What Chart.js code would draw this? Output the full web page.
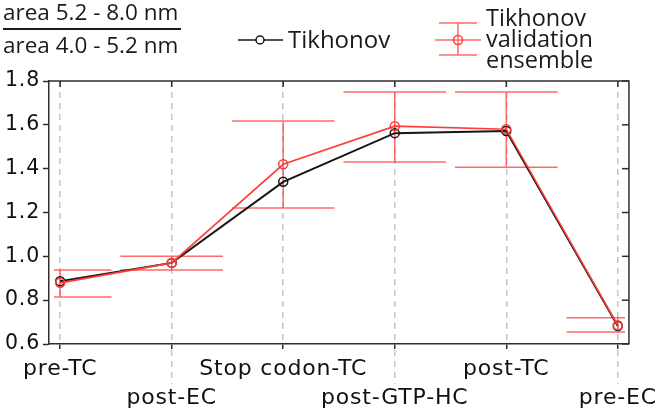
<!DOCTYPE html>
<html>
<head>
<meta charset="utf-8">
<script src="https://cdn.jsdelivr.net/npm/chart.js@4.4.1/dist/chart.umd.min.js"></script>
<style>
  html, body { margin: 0; padding: 0; background: #fff; }
  #wrap { width: 661px; height: 419px; }
</style>
</head>
<body>
<div id="wrap"><canvas id="areaChart" width="661" height="419"></canvas></div>
<script>
/* =====================================================
   DATA
===================================================== */

const stages = ["pre-TC", "post-EC", "Stop codon-TC", "post-GTP-HC", "post-TC", "pre-EC"];

// Tikhonov ratio
const tikhonov = [0.886, 0.97, 1.34, 1.562, 1.572, 0.682];

// Tikhonov validation ensemble (mean + error bar range)
const validation = [0.879, 0.97, 1.42, 1.594, 1.58, 0.685];
const validationHigh = [0.938, 1.0, 1.617, 1.75, 1.75, 0.72];
const validationLow = [0.815, 0.938, 1.22, 1.43, 1.407, 0.655];

const yTicks = [0.6, 0.8, 1.0, 1.2, 1.4, 1.6, 1.8];

const RED = "#ff3c3c";
const RED_BAR = "rgba(255, 80, 80, 0.85)";
const BLACK = "#161616";
const AXIS = "#2e2e2e";


/* =====================================================
   PLUGINS: ERROR BARS, BOX, LEGEND, Y LABEL
===================================================== */

// axis text in the figure is set a bit wide
const wideText = {
  id: "wideText",
  beforeDraw(chart) { chart.ctx.letterSpacing = "0.8px"; }
};

const errorBars = {
  id: "errorBars",
  beforeDatasetsDraw(chart) {
    const { ctx, chartArea } = chart;
    const xs = chart.scales.x, ys = chart.scales.y;
    ctx.save();
    ctx.beginPath();
    ctx.rect(chartArea.left + 5, chartArea.top, chartArea.width - 9, chartArea.height);
    ctx.clip();
    ctx.strokeStyle = RED_BAR;
    ctx.lineWidth = 1.5;
    validation.forEach((v, i) => {
      const x = xs.getPixelForValue(i + 1);
      const x0 = xs.getPixelForValue(i + 1 - 0.46);
      const x1 = xs.getPixelForValue(i + 1 + 0.46);
      const yh = ys.getPixelForValue(validationHigh[i]);
      const yl = ys.getPixelForValue(validationLow[i]);
      ctx.beginPath();
      ctx.moveTo(x, yh); ctx.lineTo(x, yl);
      ctx.moveTo(x0, yh); ctx.lineTo(x1, yh);
      ctx.moveTo(x0, yl); ctx.lineTo(x1, yl);
      ctx.stroke();
    });
    ctx.restore();
  }
};

const boxAndLeaders = {
  id: "boxAndLeaders",
  afterDraw(chart) {
    const { ctx, chartArea } = chart;
    const xs = chart.scales.x, ys = chart.scales.y;
    ctx.save();
    ctx.letterSpacing = "0px";

    // dashed leader lines down to the second label row
    ctx.strokeStyle = "#c4c4c4";
    ctx.lineWidth = 1.5;
    ctx.setLineDash([6, 5]);
    stages.forEach((s, i) => {
      if (i % 2 === 1) {
        const x = xs.getPixelForValue(i + 1);
        ctx.beginPath();
        ctx.moveTo(x, chartArea.bottom + 6);
        ctx.lineTo(x, chartArea.bottom + 40);
        ctx.stroke();
      }
    });
    ctx.setLineDash([]);

    // top and right border with inward ticks
    ctx.strokeStyle = AXIS;
    ctx.lineWidth = 1.5;
    ctx.beginPath();
    ctx.moveTo(chartArea.left, chartArea.top);
    ctx.lineTo(chartArea.right, chartArea.top);
    ctx.lineTo(chartArea.right, chartArea.bottom);
    ctx.stroke();
    stages.forEach((s, i) => {
      const x = xs.getPixelForValue(i + 1);
      ctx.beginPath();
      ctx.moveTo(x, chartArea.top);
      ctx.lineTo(x, chartArea.top + 6);
      ctx.stroke();
    });
    yTicks.forEach(v => {
      const y = ys.getPixelForValue(v);
      ctx.beginPath();
      ctx.moveTo(chartArea.right, y);
      ctx.lineTo(chartArea.right - 7, y);
      ctx.stroke();
    });

    // y label as a fraction
    ctx.fillStyle = "#1a1a1a";
    ctx.font = '22.5px "Open Sans"';
    ctx.textAlign = "left";
    ctx.textBaseline = "alphabetic";
    ctx.fillText("area 5.2 - 8.0 nm", 3, 20);
    ctx.fillText("area 4.0 - 5.2 nm", 3, 53);
    ctx.strokeStyle = "#1a1a1a";
    ctx.lineWidth = 2;
    ctx.beginPath();
    ctx.moveTo(3, 29);
    ctx.lineTo(181, 29);
    ctx.stroke();

    // legend: Tikhonov
    ctx.strokeStyle = BLACK;
    ctx.lineWidth = 1.5;
    ctx.beginPath();
    ctx.moveTo(238, 40); ctx.lineTo(256, 40);
    ctx.moveTo(264, 40); ctx.lineTo(283, 40);
    ctx.stroke();
    ctx.beginPath();
    ctx.arc(260, 40, 4, 0, Math.PI * 2);
    ctx.stroke();
    ctx.font = '24px "Open Sans"';
    ctx.fillText("Tikhonov", 288, 48);

    // legend: validation ensemble
    ctx.strokeStyle = RED_BAR;
    ctx.beginPath();
    ctx.moveTo(458, 23); ctx.lineTo(458, 55);
    ctx.moveTo(439, 23); ctx.lineTo(477, 23);
    ctx.moveTo(439, 55); ctx.lineTo(477, 55);
    ctx.moveTo(435, 40); ctx.lineTo(481, 40);
    ctx.stroke();
    ctx.strokeStyle = RED;
    ctx.beginPath();
    ctx.arc(458, 40, 4.5, 0, Math.PI * 2);
    ctx.stroke();
    ctx.font = '23.5px "Open Sans"';
    ctx.fillText("Tikhonov", 486, 26);
    ctx.fillText("validation", 486, 47);
    ctx.fillText("ensemble", 486, 68);

    ctx.restore();
  }
};


/* =====================================================
   CHART
===================================================== */

new Chart(document.getElementById("areaChart"), {
  type: "line",
  data: {
    datasets: [
      {
        label: "Tikhonov validation ensemble",
        data: validation.map((v, i) => ({ x: i + 1, y: v })),
        borderColor: RED,
        borderWidth: 1.6,
        pointRadius: 4.5,
        pointBorderWidth: 1.5,
        pointBorderColor: RED,
        pointBackgroundColor: "rgba(0,0,0,0)",
        tension: 0
      },
      {
        label: "Tikhonov",
        data: tikhonov.map((v, i) => ({ x: i + 1, y: v })),
        borderColor: BLACK,
        borderWidth: 2,
        pointRadius: 4.5,
        pointBorderWidth: 1.5,
        pointBorderColor: BLACK,
        pointBackgroundColor: "rgba(0,0,0,0)",
        tension: 0
      }
    ]
  },
  options: {
    responsive: false,
    animation: false,
    devicePixelRatio: 1,
    layout: { padding: { top: 81, right: 30, left: 0, bottom: 0 } },
    plugins: {
      legend: { display: false },
      tooltip: { enabled: false }
    },
    scales: {
      x: {
        type: "linear",
        min: 0.9,
        max: 6.1,
        afterBuildTicks: s => { s.ticks = stages.map((_, i) => ({ value: i + 1 })); },
        afterFit: s => { s.height = 75; },
        ticks: {
          autoSkip: false,
          maxRotation: 0,
          padding: 6,
          color: "#111",
          font: { family: "DejaVu Sans", size: 22, lineHeight: 1.32 },
          callback: v => {
            const i = Math.round(v) - 1;
            return i % 2 ? ["", stages[i]] : stages[i];
          }
        },
        grid: {
          color: "#c4c4c4",
          lineWidth: 1.5,
          drawTicks: true,
          tickLength: 5,
          tickColor: AXIS,
          tickWidth: 1.5,
          tickBorderDash: []
        },
        border: { color: AXIS, width: 1.5, dash: [6, 5] }
      },
      y: {
        min: 0.6,
        max: 1.8,
        afterBuildTicks: s => { s.ticks = yTicks.map(v => ({ value: v })); },
        afterFit: s => { s.width = 49; },
        ticks: {
          padding: 3,
          color: "#111",
          font: { family: "DejaVu Sans", size: 20.5 },
          callback: v => v.toFixed(1)
        },
        grid: {
          drawOnChartArea: false,
          drawTicks: true,
          tickLength: 6,
          tickColor: AXIS,
          tickWidth: 1.5
        },
        border: { color: AXIS, width: 1.5 }
      }
    }
  },
  plugins: [wideText, errorBars, boxAndLeaders]
});
</script>
</body>
</html>
